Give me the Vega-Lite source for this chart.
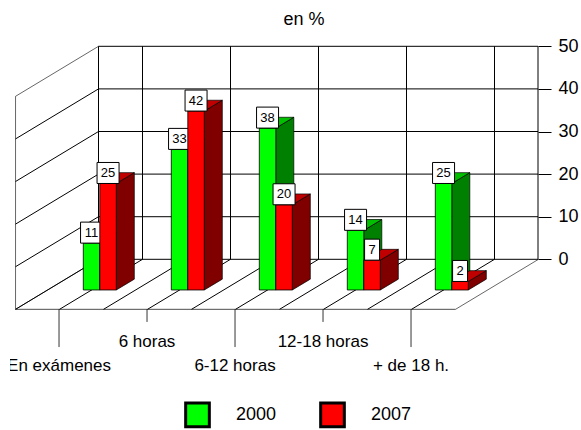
{
"$schema":"https://vega.github.io/schema/vega-lite/v6.json",
"width":528,"height":430,"autosize":{"type":"none"},"padding":{"left":10,"right":43,"top":0,"bottom":0},
"background":"white",
"config":{"view":{"stroke":null},"font":"Liberation Sans"},
"params":[{"name":"cats","value":["En exámenes","6 horas","6-12 horas","12-18 horas","+ de 18 h."]}],
"datasets":{
"ticks":[{"tick":0},{"tick":10},{"tick":20},{"tick":30},{"tick":40},{"tick":50}],
"categories":[{"category":"En exámenes"},{"category":"6 horas"},{"category":"6-12 horas"},{"category":"12-18 horas"},{"category":"+ de 18 h."}],
"floor":[{"k":0},{"k":1},{"k":2},{"k":3},{"k":4},{"k":5},{"k":6},{"k":7},{"k":8},{"k":9},{"k":10}],
"edges":[{"edge":"left"},{"edge":"back"},{"edge":"right"}],
"front":[{"edge":"front"}],
"heading":[{"text":"en %"}]
},
"data":{"values":[
{"category":"En exámenes","series":"2000","value":11},{"category":"En exámenes","series":"2007","value":25},
{"category":"6 horas","series":"2000","value":33},{"category":"6 horas","series":"2007","value":42},
{"category":"6-12 horas","series":"2000","value":38},{"category":"6-12 horas","series":"2007","value":20},
{"category":"12-18 horas","series":"2000","value":14},{"category":"12-18 horas","series":"2007","value":7},
{"category":"+ de 18 h.","series":"2000","value":25},{"category":"+ de 18 h.","series":"2007","value":2}
]},
"transform":[
{"calculate":"indexof(cats,datum.category)+(datum.series=='2007'?0.1875:0)","as":"left"},
{"calculate":"datum.left+0.1875","as":"right"},
{"calculate":"datum.value-7.2","as":"top"},
{"calculate":"datum.left+0.0938","as":"mid"},
{"calculate":"datum.value>=10?0.125:0.085","as":"half"},
{"calculate":"[0,1]","as":"t"},
{"flatten":["t"]}
],
"encoding":{
"x":{"field":"xa","type":"quantitative","axis":null,"scale":{"domain":[-0.833,5.167],"nice":false,"zero":false}},
"y":{"field":"ya","type":"quantitative","scale":{"domain":[-40.07,60.87],"nice":false,"zero":false},
"axis":{"orient":"right","title":null,"values":[0,10,20,30,40,50],"domain":false,"grid":false,"tickSize":13,"tickColor":"#000000","labelPadding":7,"labelFontSize":18,"labelFont":"Liberation Sans","labelColor":"#000000"}}
},
"layer":[
{"data":{"name":"ticks"},"transform":[{"calculate":"0.1727","as":"xa"},{"calculate":"5.167","as":"xb"},{"calculate":"datum.tick","as":"ya"},{"calculate":"datum.tick","as":"yb"}],
"mark":{"type":"rule","color":"#000000","strokeWidth":1},"encoding":{"x2":{"field":"xb"},"y2":{"field":"yb"}}},
{"data":{"name":"ticks"},"transform":[{"calculate":"-0.770","as":"xa"},{"calculate":"0.1727","as":"xb"},{"calculate":"datum.tick-11.74","as":"ya"},{"calculate":"datum.tick","as":"yb"}],
"mark":{"type":"rule","color":"#000000"},"encoding":{"x2":{"field":"xb"},"y2":{"field":"yb"},"strokeWidth":{"condition":{"test":"datum.tick==50","value":0.6},"value":1}}},
{"data":{"name":"categories"},"transform":[{"calculate":"indexof(cats,datum.category)+0.6727","as":"xa"},{"calculate":"datum.xa","as":"xb"},{"calculate":"0","as":"ya"},{"calculate":"50","as":"yb"}],
"mark":{"type":"rule","color":"#000000","strokeWidth":1},"encoding":{"x2":{"field":"xb"},"y2":{"field":"yb"}}},
{"data":{"name":"edges"},"transform":[{"calculate":"datum.edge=='left'?-0.770:datum.edge=='back'?0.1727:5.167","as":"xa"},{"calculate":"datum.xa","as":"xb"},{"calculate":"datum.edge=='left'?-11.74:0","as":"ya"},{"calculate":"datum.edge=='left'?38.26:50","as":"yb"}],
"mark":{"type":"rule","color":"#000000"},"encoding":{"x2":{"field":"xb"},"y2":{"field":"yb"},"strokeWidth":{"condition":{"test":"datum.edge=='left'","value":0.6},"value":1}}},
{"data":{"name":"floor"},"transform":[{"calculate":"-0.770+0.5*datum.k","as":"xa"},{"calculate":"datum.xa+0.9427","as":"xb"},{"calculate":"-11.74","as":"ya"},{"calculate":"0","as":"yb"}],
"mark":{"type":"rule","color":"#000000"},"encoding":{"x2":{"field":"xb"},"y2":{"field":"yb"},"strokeWidth":{"condition":{"test":"datum.k==0||datum.k==10","value":0.6},"value":1}}},
{"data":{"name":"front"},"transform":[{"calculate":"-0.770","as":"xa"},{"calculate":"4.230","as":"xb"},{"calculate":"-11.74","as":"ya"},{"calculate":"-11.74","as":"yb"}],
"mark":{"type":"rule","color":"#000000","strokeWidth":0.7},"encoding":{"x2":{"field":"xb"},"y2":{"field":"yb"}}},
{"data":{"name":"categories"},"transform":[{"calculate":"indexof(cats,datum.category)","as":"i"},{"calculate":"datum.i-0.276","as":"xa"},{"calculate":"datum.xa","as":"xb"},{"calculate":"-11.74","as":"ya"},{"calculate":"datum.i%2==0?-20.6:-14.7","as":"yb"}],
"mark":{"type":"rule","color":"#000000","strokeWidth":0.8},"encoding":{"x2":{"field":"xb"},"y2":{"field":"yb"}}},
{"data":{"name":"categories"},"transform":[{"calculate":"indexof(cats,datum.category)","as":"i"},{"calculate":"datum.i-0.276","as":"xa"},{"calculate":"datum.i%2==0?-26.2:-20.6","as":"ya"}],
"mark":{"type":"text","fontSize":17,"font":"Liberation Sans","color":"#000000","baseline":"alphabetic","align":"center","clip":true},"encoding":{"text":{"field":"category"}}},
{"data":{"name":"heading"},"transform":[{"calculate":"2.508","as":"xa"},{"calculate":"55","as":"ya"}],
"mark":{"type":"text","fontSize":18,"font":"Liberation Sans","color":"#000000","baseline":"alphabetic","align":"center"},"encoding":{"text":{"field":"text"}}},

{"transform":[{"filter":"datum.series=='2000'"},{"calculate":"datum.right+datum.t*0.2045","as":"xa"},{"calculate":"datum.top+datum.t*2.54","as":"ya"},{"calculate":"-7.2+datum.t*2.54","as":"yb"}],
"mark":{"type":"area","orient":"vertical","fill":"#008000","stroke":"#000000","strokeWidth":0.7},"encoding":{"y2":{"field":"yb"},"detail":{"field":"category"}}},
{"transform":[{"filter":"datum.series=='2000'"},{"calculate":"datum.left+datum.t*0.2045","as":"xa"},{"calculate":"datum.right+datum.t*0.2045","as":"xb"},{"calculate":"datum.top+datum.t*2.54","as":"ya"}],
"mark":{"type":"area","orient":"horizontal","fill":"#00C000","stroke":"#000000","strokeWidth":0.7},"encoding":{"x2":{"field":"xb"},"detail":{"field":"category"}}},
{"transform":[{"filter":"datum.series=='2000' && datum.t==0"},{"calculate":"datum.left","as":"xa"},{"calculate":"datum.right","as":"xb"},{"calculate":"datum.top","as":"ya"},{"calculate":"-7.2","as":"yb"}],
"mark":{"type":"rect","stroke":"#000000","strokeWidth":0.8},"encoding":{"x2":{"field":"xb"},"y2":{"field":"yb"},
"color":{"field":"series","type":"nominal","scale":{"domain":["2000","2007"],"range":["#00FF00","#FF0000"]},
"legend":{"title":null,"orient":"none","direction":"horizontal","columns":2,"legendX":174,"legendY":401,"symbolType":"square","symbolSize":560,"symbolStrokeColor":"#000000","symbolStrokeWidth":3,"symbolOpacity":1,"labelFontSize":18,"labelFont":"Liberation Sans","labelColor":"#000000","labelOffset":25,"columnPadding":37}}}},
{"transform":[{"filter":"datum.series=='2000' && datum.t==0"},{"calculate":"datum.mid-datum.half","as":"xa"},{"calculate":"datum.mid+datum.half","as":"xb"},{"calculate":"datum.top","as":"ya"},{"calculate":"datum.top+4.93","as":"yb"}],
"mark":{"type":"rect","fill":"#FFFFFF","stroke":"#000000","strokeWidth":1},"encoding":{"x2":{"field":"xb"},"y2":{"field":"yb"}}},
{"transform":[{"filter":"datum.series=='2000' && datum.t==0"},{"calculate":"datum.mid","as":"xa"},{"calculate":"datum.top+2.46","as":"ya"}],
"mark":{"type":"text","fontSize":13,"font":"Liberation Sans","color":"#000000","baseline":"middle","align":"center"},"encoding":{"text":{"field":"value","type":"quantitative"}}},

{"transform":[{"filter":"datum.series=='2007'"},{"calculate":"datum.right+datum.t*0.2045","as":"xa"},{"calculate":"datum.top+datum.t*2.54","as":"ya"},{"calculate":"-7.2+datum.t*2.54","as":"yb"}],
"mark":{"type":"area","orient":"vertical","fill":"#800000","stroke":"#000000","strokeWidth":0.7},"encoding":{"y2":{"field":"yb"},"detail":{"field":"category"}}},
{"transform":[{"filter":"datum.series=='2007'"},{"calculate":"datum.left+datum.t*0.2045","as":"xa"},{"calculate":"datum.right+datum.t*0.2045","as":"xb"},{"calculate":"datum.top+datum.t*2.54","as":"ya"}],
"mark":{"type":"area","orient":"horizontal","fill":"#C00000","stroke":"#000000","strokeWidth":0.7},"encoding":{"x2":{"field":"xb"},"detail":{"field":"category"}}},
{"transform":[{"filter":"datum.series=='2007' && datum.t==0"},{"calculate":"datum.left","as":"xa"},{"calculate":"datum.right","as":"xb"},{"calculate":"datum.top","as":"ya"},{"calculate":"-7.2","as":"yb"}],
"mark":{"type":"rect","stroke":"#000000","strokeWidth":0.8},"encoding":{"x2":{"field":"xb"},"y2":{"field":"yb"},
"color":{"field":"series","type":"nominal","scale":{"domain":["2000","2007"],"range":["#00FF00","#FF0000"]}}}},
{"transform":[{"filter":"datum.series=='2007' && datum.t==0"},{"calculate":"datum.mid-datum.half","as":"xa"},{"calculate":"datum.mid+datum.half","as":"xb"},{"calculate":"datum.top","as":"ya"},{"calculate":"datum.top+4.93","as":"yb"}],
"mark":{"type":"rect","fill":"#FFFFFF","stroke":"#000000","strokeWidth":1},"encoding":{"x2":{"field":"xb"},"y2":{"field":"yb"}}},
{"transform":[{"filter":"datum.series=='2007' && datum.t==0"},{"calculate":"datum.mid","as":"xa"},{"calculate":"datum.top+2.46","as":"ya"}],
"mark":{"type":"text","fontSize":13,"font":"Liberation Sans","color":"#000000","baseline":"middle","align":"center"},"encoding":{"text":{"field":"value","type":"quantitative"}}}
]
}
